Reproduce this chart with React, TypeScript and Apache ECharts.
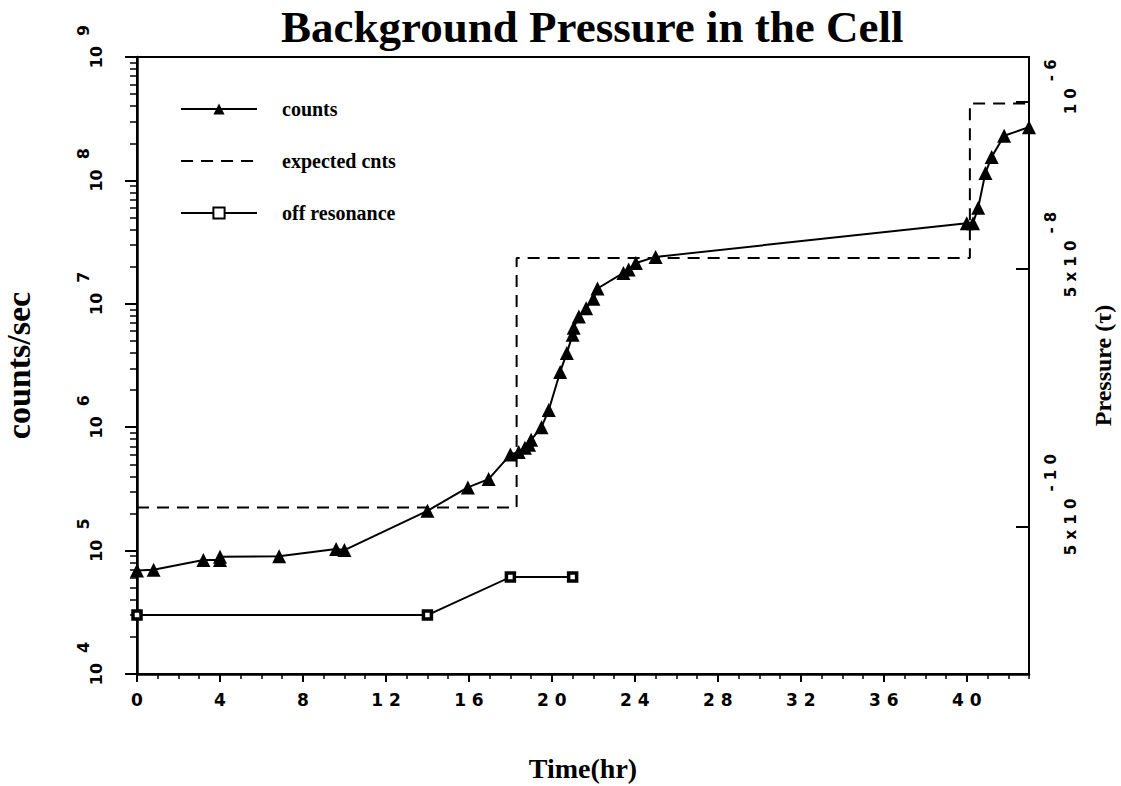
import React, { useEffect, useRef } from 'react';
import * as echarts from 'echarts';

// ---- data ----
const countsTime = [0, 0.8, 3.2, 4.0, 4.0, 6.85, 9.6, 10.0, 14.0, 15.95, 16.95, 18.0, 18.4, 18.7, 18.9, 19.0, 19.5, 19.85, 20.4, 20.72, 21.0, 21.05, 21.3, 21.65, 22.0, 22.2, 23.45, 23.7, 24.05, 25.0, 40.0, 40.3, 40.55, 40.9, 41.2, 41.8, 43.0];
const countsValue = [69000, 70000, 84000, 84000, 89000, 90000, 103000, 101000, 210000, 325000, 380000, 600000, 630000, 680000, 720000, 790000, 1000000, 1380000, 2800000, 4000000, 5600000, 6400000, 7900000, 9200000, 11000000, 13300000, 17800000, 19000000, 21400000, 24000000, 45000000, 45000000, 60000000, 115000000, 155000000, 230000000, 270000000];

const expectedTime = [0, 18.3, 18.3, 40.15, 40.15, 43];
const expectedValue = [224000, 224000, 23500000, 23500000, 420000000, 420000000];

const offTime = [0, 14, 18, 21];
const offValue = [30000, 30000, 61000, 61000];

const countDecades = [1e4, 1e5, 1e6, 1e7, 1e8, 1e9];
const minorMultipliers = [2, 3, 4, 5, 6, 7, 8, 9];
const pressureTicks = [5e-10, 5e-8, 1e-6];
const pressureBase = ['5 x 1 0', '5 x 1 0', '1 0'];
const pressureExp = ['- 1 0', '- 8', '- 6'];
const pressureRange = [3.59e-11, 2.21e-6];
const timeRange = [0, 43];

const spaced = (s: string) => s.split('').join(' ');

export default function App() {
  const ref = useRef<HTMLDivElement>(null);
  useEffect(() => {
    if (!ref.current) return;
    const chart = echarts.init(ref.current, undefined, { renderer: 'svg' });
    const minorTicks: number[] = [];
    for (let i = 0; i < countDecades.length - 1; i++) {
      for (const m of minorMultipliers) minorTicks.push(countDecades[i] * m);
    }
    const black = '#000';
    const sans = 'DejaVu Sans';
    const serif = 'Liberation Serif';
    const tickFont = { fontFamily: sans, fontWeight: 'bold' as const, fontSize: 17, color: black };
    const leftFont = { fontFamily: sans, fontWeight: 'bold' as const, fontSize: 16, color: black };
    const rightFont = { fontFamily: sans, fontWeight: 'bold' as const, fontSize: 15, color: black };
    const nameFont = { fontFamily: serif, fontWeight: 'bold' as const, color: black };
    const clear = 'rgba(0,0,0,0)';

    const option: any = {
      animation: false,
      backgroundColor: '#fff',
      title: {
        text: 'Background Pressure in the Cell',
        left: 281,
        top: 4,
        padding: 0,
        textStyle: { ...nameFont, fontSize: 45, lineHeight: 45 },
      },
      legend: {
        orient: 'vertical',
        left: 180,
        top: 99,
        padding: 0,
        itemWidth: 76,
        itemHeight: 14,
        itemGap: 32,
        selectedMode: false,
        textStyle: { ...nameFont, fontSize: 20, padding: [0, 0, 0, 20] },
        data: [
          { name: 'counts' },
          { name: 'expected cnts', itemStyle: { color: clear, borderColor: clear, borderWidth: 0 } },
          { name: 'off resonance' },
        ],
      },
      grid: {
        left: 137,
        right: 92,
        top: 57,
        bottom: 112,
        show: true,
        borderColor: black,
        borderWidth: 2,
        outerBoundsMode: 'none',
      },
      xAxis: [
        {
          type: 'value',
          min: timeRange[0],
          max: timeRange[1],
          interval: 4,
          axisLine: { lineStyle: { color: black, width: 2.5 } },
          axisTick: { length: 8, lineStyle: { color: black, width: 2 } },
          axisLabel: { ...tickFont, margin: 17, showMaxLabel: false, formatter: (v: number) => spaced(String(v)) },
          splitLine: { show: false },
          name: 'Time(hr)',
          nameLocation: 'middle',
          nameGap: 80,
          nameTextStyle: { ...nameFont, fontSize: 28 },
        },
        {
          type: 'value',
          min: timeRange[0],
          max: timeRange[1],
          interval: 1,
          position: 'bottom',
          axisLine: { show: false },
          axisTick: { length: 5, lineStyle: { color: black, width: 1.5 } },
          axisLabel: { show: false },
          splitLine: { show: false },
        },
      ],
      yAxis: [
        {
          type: 'log',
          logBase: 10,
          min: countDecades[0],
          max: countDecades[countDecades.length - 1],
          position: 'left',
          axisLine: { show: true, lineStyle: { color: black, width: 2.5 } },
          axisTick: { show: true, customValues: countDecades, length: 12, lineStyle: { color: black, width: 2 } },
          axisLabel: {
            customValues: countDecades,
            rotate: 90,
            margin: 33,
            formatter: (v: number) => `{p| }{b|10}{s|${Math.round(Math.log10(v))}}`,
            rich: {
              p: { width: 21, lineHeight: 29 },
              b: { ...leftFont, lineHeight: 16, verticalAlign: 'bottom' },
              s: { ...leftFont, lineHeight: 16, verticalAlign: 'top', padding: [0, 0, 0, 10] },
            },
          },
          splitLine: { show: false },
          name: 'counts/sec',
          nameLocation: 'middle',
          nameRotate: 90,
          nameGap: 102,
          nameTextStyle: { ...nameFont, fontSize: 34 },
        },
        {
          type: 'log',
          logBase: 10,
          min: countDecades[0],
          max: countDecades[countDecades.length - 1],
          position: 'left',
          axisLine: { show: false },
          axisTick: { show: true, customValues: minorTicks, length: 7, lineStyle: { color: black, width: 1.5 } },
          axisLabel: { show: false },
          splitLine: { show: false },
        },
        {
          type: 'log',
          logBase: 10,
          min: pressureRange[0],
          max: pressureRange[1],
          position: 'right',
          axisLine: { show: true, lineStyle: { color: black, width: 2 } },
          axisTick: { show: true, inside: true, customValues: pressureTicks, length: 13, lineStyle: { color: black, width: 2 } },
          axisLabel: {
            customValues: pressureTicks,
            rotate: 90,
            margin: 14,
            formatter: (v: number) => {
              let idx = 0;
              pressureTicks.forEach((t, i) => {
                if (Math.abs(Math.log10(t) - Math.log10(v)) < 1e-3) idx = i;
              });
              const pad = idx === 0 ? 'q' : 'p';
              return `{${pad}| }{b|${pressureBase[idx]}}{s|${pressureExp[idx]}}`;
            },
            rich: {
              p: { width: 29, lineHeight: 35 },
              q: { width: 44, lineHeight: 35 },
              b: { ...rightFont, lineHeight: 15, verticalAlign: 'bottom' },
              s: { ...rightFont, lineHeight: 15, verticalAlign: 'top', padding: [0, 0, 0, 7] },
            },
          },
          splitLine: { show: false },
          name: 'Pressure (τ)',
          nameLocation: 'middle',
          nameRotate: 90,
          nameGap: 62,
          nameTextStyle: { ...nameFont, fontSize: 24 },
        },
      ],
      series: [
        {
          name: 'counts',
          type: 'line',
          xAxisIndex: 0,
          yAxisIndex: 0,
          data: countsTime.map((t, i) => [t, countsValue[i]]),
          symbol: 'triangle',
          symbolSize: 14,
          itemStyle: { color: black },
          lineStyle: { color: black, width: 2 },
          z: 4,
        },
        {
          name: 'expected cnts',
          type: 'line',
          xAxisIndex: 0,
          yAxisIndex: 0,
          data: expectedTime.map((t, i) => [t, expectedValue[i]]),
          symbol: 'none',
          itemStyle: { color: black },
          lineStyle: { color: black, width: 2, type: [12, 8] },
          z: 3,
        },
        {
          name: 'off resonance',
          type: 'line',
          xAxisIndex: 0,
          yAxisIndex: 0,
          data: offTime.map((t, i) => [t, offValue[i]]),
          symbol: 'rect',
          symbolSize: 8,
          itemStyle: { color: '#fff', borderColor: black, borderWidth: 3.5 },
          lineStyle: { color: black, width: 2 },
          z: 4,
        },
      ],
    };
    chart.setOption(option);
    return () => chart.dispose();
  }, []);
  return (
    <div
      ref={ref}
      style={{ position: 'absolute', left: 0, top: 0, width: 1121, height: 786, background: '#fff' }}
    />
  );
}
